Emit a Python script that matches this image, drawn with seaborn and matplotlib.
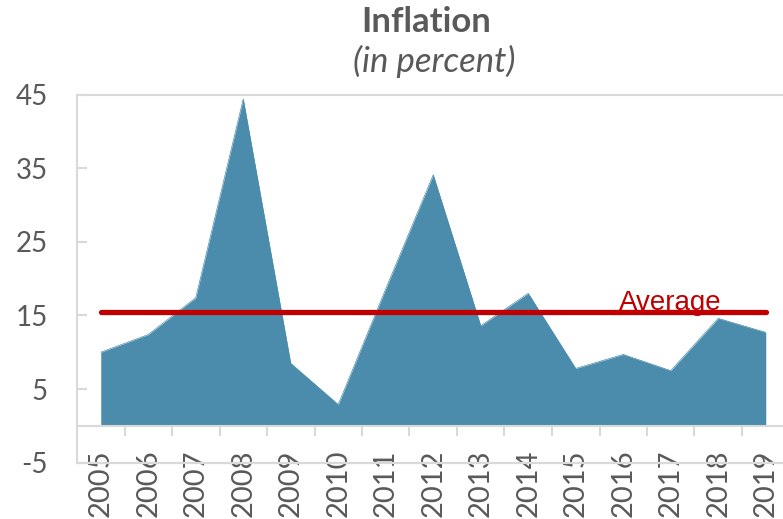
import matplotlib
matplotlib.use("Agg")
import matplotlib.pyplot as plt
import seaborn as sns
import pandas as pd
from matplotlib.ticker import FixedLocator

years = ["2005", "2006", "2007", "2008", "2009", "2010", "2011", "2012",
         "2013", "2014", "2015", "2016", "2017", "2018", "2019"]
inflation = [10.0, 12.4, 17.4, 44.4, 8.5, 2.9, 18.6, 34.1,
             13.6, 18.0, 7.8, 9.7, 7.5, 14.6, 12.7]
average = [15.5] * len(years)
y_ticks = [-5, 5, 15, 25, 35, 45]

sns.set_theme(style="white")
plt.rcParams["font.family"] = ["Lato", "DejaVu Sans"]

df = pd.DataFrame({"pos": range(len(years)), "year": years,
                   "inflation": inflation, "average": average})

fig = plt.figure(figsize=(7.83, 5.19), dpi=100)
ax = fig.add_axes([77 / 783, 56.3 / 519, 712.5 / 783, 368.2 / 519])

area_color = "#4B8CAD"
gray = "#595959"
spine_c = "#D9D9D9"

ax.fill_between(df["pos"], 0, df["inflation"], color=area_color, linewidth=0, zorder=2)
sns.lineplot(data=df, x="pos", y="inflation", ax=ax, color=area_color, linewidth=0.5, zorder=2)
sns.lineplot(data=df, x="pos", y="average", ax=ax, color="#C00000", linewidth=3.8,
             solid_capstyle="round", zorder=3)

ax.text(12, 15.8, "Average", color="#C00000", fontsize=20, ha="center", va="baseline",
        family=["Liberation Sans", "DejaVu Sans"], zorder=4)

ax.set_xlim(-0.5, 14.5)
ax.set_ylim(-5, 45)
ax.set_xlabel("")
ax.set_ylabel("")

# Spines
for s in ["top", "left"]:
    ax.spines[s].set_color(spine_c)
    ax.spines[s].set_linewidth(1.5)
ax.spines["right"].set_visible(False)
ax.spines["bottom"].set_position(("data", 0))
ax.spines["bottom"].set_color(spine_c)
ax.spines["bottom"].set_linewidth(1.5)
ax.axhline(-5, color=spine_c, linewidth=1.6, clip_on=False, zorder=1)

# Y ticks
ax.yaxis.set_major_locator(FixedLocator(y_ticks))
ax.set_yticklabels([str(v) for v in y_ticks])
ax.tick_params(axis="y", which="major", direction="in", length=7, width=1.5,
               color=spine_c, labelsize=20, labelcolor=gray, pad=21, left=True)

# X ticks: labels at categories, marks between categories
ax.set_xticks(list(df["pos"]))
ax.set_xticklabels(years, rotation=90, va="top", ha="center")
ax.xaxis.set_minor_locator(FixedLocator([i + 0.5 for i in range(len(years) - 1)]))
ax.tick_params(axis="x", which="major", length=0, labelsize=21, labelcolor=gray, pad=17)
ax.tick_params(axis="x", which="minor", direction="out", length=7, width=1.5,
               color=spine_c, bottom=True)

fig.text(426 / 783, 1 - 22 / 519, "Inflation", ha="center", va="center",
         fontsize=25, fontweight="bold", color=gray)
fig.text(434 / 783, 1 - 61 / 519, "(in percent)", ha="center", va="center",
         fontsize=25, style="italic", color=gray)

fig.savefig("out.png", dpi=100)
